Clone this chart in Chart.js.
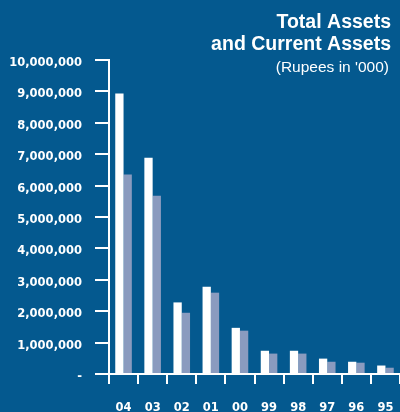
<!DOCTYPE html>
<html>
<head>
<meta charset="utf-8">
<title>Total Assets and Current Assets</title>
<script src="https://cdn.jsdelivr.net/npm/chart.js@4"></script>
<style>
  html, body { margin: 0; padding: 0; background: #04598f; overflow: hidden; }
  #wrap { position: relative; width: 400px; height: 412px; }
</style>
</head>
<body>
<div id="wrap"><canvas id="assets"></canvas></div>
<script>
// Rupees in '000, newest year first
const years = ["04", "03", "02", "01", "00", "99", "98", "97", "96", "95"];
const totalAssets = [8930000, 6890000, 2280000, 2780000, 1470000, 740000, 740000, 490000, 390000, 270000];
const currentAssets = [6350000, 5680000, 1950000, 2590000, 1380000, 650000, 650000, 390000, 360000, 200000];

const titleLines = ["Total Assets", "and Current Assets"];
const subTitle = "(Rupees in '000)";

const INK = "#ffffff";
const GREY = "#8a9bbf";

// heading in the top right corner, two bold lines and a note
const headingPlugin = {
  id: "heading",
  afterDraw(chart) {
    const ctx = chart.ctx;
    ctx.save();
    ctx.fillStyle = INK;
    ctx.textAlign = "right";
    ctx.textBaseline = "alphabetic";
    ctx.font = "bold 19.5px 'Liberation Sans', Arial, sans-serif";
    ctx.fillText(titleLines[0], 391, 27.5);
    ctx.fillText(titleLines[1], 391, 50);
    ctx.font = "15.5px 'Liberation Sans', Arial, sans-serif";
    ctx.fillText(subTitle, 389, 72);
    ctx.restore();
  }
};

const axisFont = "'DejaVu Sans', sans-serif";

new Chart(document.getElementById("assets"), {
  type: "bar",
  data: {
    labels: years,
    datasets: [
      { label: "Total Assets", data: totalAssets, backgroundColor: INK, borderWidth: 0 },
      { label: "Current Assets", data: currentAssets, backgroundColor: GREY, borderWidth: 0 }
    ]
  },
  options: {
    responsive: true,
    maintainAspectRatio: false,
    animation: false,
    layout: { padding: { top: 60, right: 0, bottom: 0, left: 0 } },
    datasets: { bar: { categoryPercentage: 0.57, barPercentage: 1.0 } },
    plugins: {
      legend: { display: false },
      tooltip: { enabled: false }
    },
    scales: {
      x: {
        grid: { offset: true, drawOnChartArea: false, color: INK, lineWidth: 2, tickLength: 10 },
        border: { display: true, color: INK, width: 2 },
        ticks: {
          color: INK,
          // tall line height pushes the year labels down without widening the plot
          font: { family: axisFont, size: 11.5, weight: "bold", lineHeight: 3.4 },
          padding: 4,
          maxRotation: 0,
          autoSkip: false
        },
        afterFit(scale) { scale.height = 38; }
      },
      y: {
        min: 0,
        max: 10000000,
        grid: { drawOnChartArea: false, color: INK, lineWidth: 2, tickLength: 14 },
        border: { display: true, color: INK, width: 2 },
        ticks: {
          stepSize: 1000000,
          color: INK,
          font: { family: axisFont, size: 11.5, weight: "bold" },
          padding: 13,
          labelOffset: 3,
          callback: (v) => (v === 0 ? "-" : v.toLocaleString("en-US"))
        },
        afterFit(scale) { scale.width = 109; }
      }
    }
  },
  plugins: [headingPlugin]
});
</script>
</body>
</html>
